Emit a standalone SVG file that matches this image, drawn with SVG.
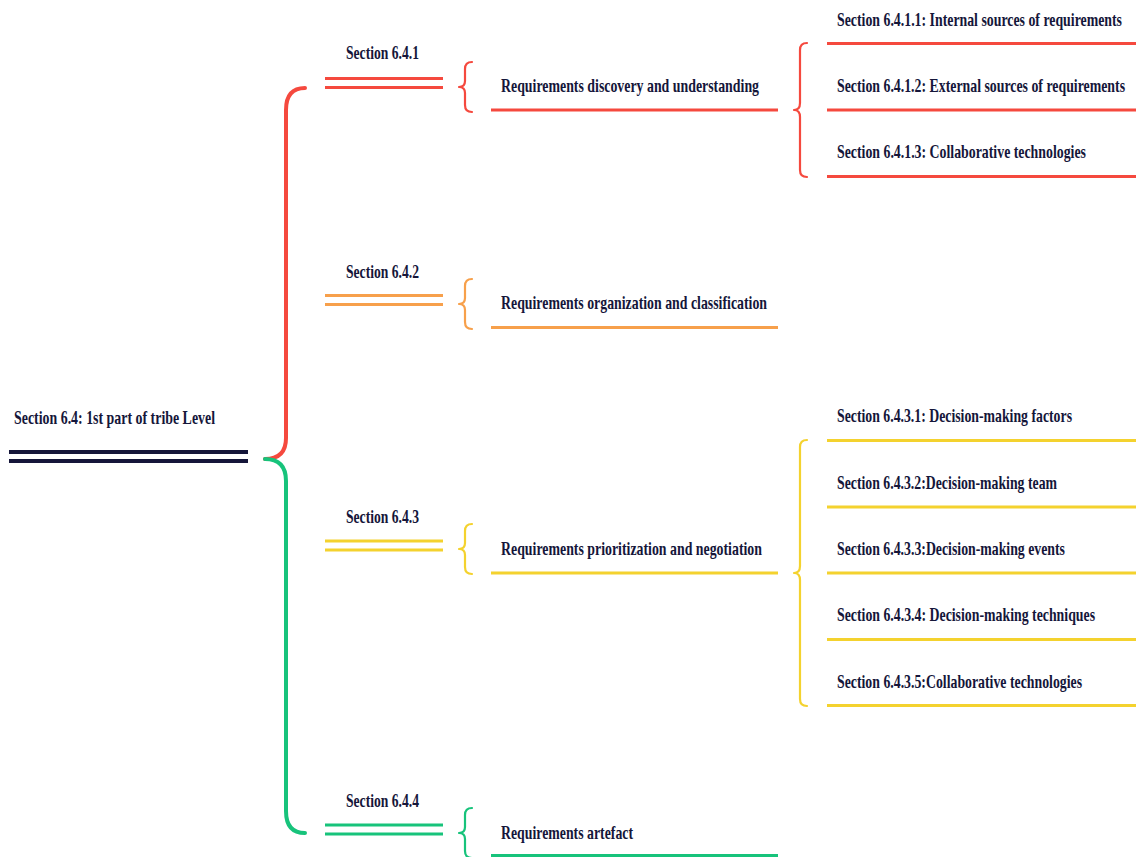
<svg xmlns="http://www.w3.org/2000/svg" width="1136" height="857" viewBox="0 0 1136 857">
<style>
text{font-family:"Liberation Serif","Times New Roman",serif;font-weight:bold;font-size:18px;fill:#15163a}
.ln{fill:none;stroke-linecap:butt}
.red{stroke:#f5493e}
.org{stroke:#f7a04b}
.yel{stroke:#f4d22e}
.grn{stroke:#17c37b}
.br{fill:none;stroke-width:2.2;stroke-linecap:round;stroke-linejoin:round}
.dl{stroke-width:3}
.ul{stroke-width:3}
</style>
<rect width="1136" height="857" fill="#ffffff"/>
<g id="connectors">
<path class="br red" d="M305,88 Q286,88 286,110 L286,438 Q286,459 265,459" style="stroke-width:4"/>
<path class="br grn" d="M265,459 Q286,459 286,481 L286,811 Q286,833 305,833" style="stroke-width:4"/>
<path class="br red" d="M472,62 Q465,62 465,69 L465,81 Q465,87 459,87 Q465,87 465,93 L465,105 Q465,112 472,112"/>
<path class="br org" d="M472,279 Q465,279 465,286 L465,298 Q465,304 459,304 Q465,304 465,310 L465,322 Q465,329 472,329"/>
<path class="br yel" d="M472,524 Q465,524 465,531 L465,543 Q465,549 459,549 Q465,549 465,555 L465,567 Q465,574 472,574"/>
<path class="br grn" d="M472,808 Q465,808 465,815 L465,827 Q465,833 459,833 Q465,833 465,839 L465,851 Q465,858 472,858"/>
<path class="br red" d="M807,43 Q800,43 800,50 L800,103 Q800,110 794,110 Q800,110 800,117 L800,170 Q800,177 807,177"/>
<path class="br yel" d="M807,440 Q800,440 800,447 L800,566 Q800,573 794,573 Q800,573 800,580 L800,699 Q800,706 807,706"/>
</g>
<g id="root">
<text transform="translate(14,424) scale(0.76,1)" textLength="264.5" lengthAdjust="spacingAndGlyphs">Section 6.4: 1st part of tribe Level</text>
<line class="ln" x1="9" y1="452" x2="248" y2="452" stroke="#15163a" stroke-width="4"/>
<line class="ln" x1="9" y1="461" x2="248" y2="461" stroke="#15163a" stroke-width="4"/>
</g>
<g id="s641">
<text transform="translate(346,59) scale(0.76,1)" textLength="96" lengthAdjust="spacingAndGlyphs">Section 6.4.1</text>
<line class="ln red dl" x1="325" y1="78.5" x2="443" y2="78.5"/>
<line class="ln red dl" x1="325" y1="87.5" x2="443" y2="87.5"/>
</g>
<g id="req641">
<text transform="translate(501,92) scale(0.76,1)" textLength="339.5" lengthAdjust="spacingAndGlyphs">Requirements discovery and understanding</text>
<line class="ln red ul" x1="491" y1="110" x2="778" y2="110"/>
</g>
<g id="s6411">
<text transform="translate(837,26) scale(0.76,1)" textLength="375" lengthAdjust="spacingAndGlyphs">Section 6.4.1.1: Internal sources of requirements</text>
<line class="ln red ul" x1="827" y1="43.5" x2="1136" y2="43.5"/>
</g>
<g id="s6412">
<text transform="translate(837,92) scale(0.76,1)" textLength="379" lengthAdjust="spacingAndGlyphs">Section 6.4.1.2: External sources of requirements</text>
<line class="ln red ul" x1="827" y1="110" x2="1136" y2="110"/>
</g>
<g id="s6413">
<text transform="translate(837,158) scale(0.76,1)" textLength="327.6" lengthAdjust="spacingAndGlyphs">Section 6.4.1.3: Collaborative technologies</text>
<line class="ln red ul" x1="827" y1="176.5" x2="1136" y2="176.5"/>
</g>
<g id="s642">
<text transform="translate(346,278) scale(0.76,1)" textLength="96" lengthAdjust="spacingAndGlyphs">Section 6.4.2</text>
<line class="ln org dl" x1="325" y1="295.5" x2="443" y2="295.5"/>
<line class="ln org dl" x1="325" y1="304.5" x2="443" y2="304.5"/>
</g>
<g id="req642">
<text transform="translate(501,309) scale(0.76,1)" textLength="350" lengthAdjust="spacingAndGlyphs">Requirements organization and classification</text>
<line class="ln org ul" x1="491" y1="327.5" x2="778" y2="327.5"/>
</g>
<g id="s643">
<text transform="translate(346,523) scale(0.76,1)" textLength="96" lengthAdjust="spacingAndGlyphs">Section 6.4.3</text>
<line class="ln yel dl" x1="325" y1="541" x2="443" y2="541"/>
<line class="ln yel dl" x1="325" y1="550" x2="443" y2="550"/>
</g>
<g id="req643">
<text transform="translate(501,555) scale(0.76,1)" textLength="343.4" lengthAdjust="spacingAndGlyphs">Requirements prioritization and negotiation</text>
<line class="ln yel ul" x1="491" y1="573" x2="778" y2="573"/>
</g>
<g id="s6431">
<text transform="translate(837,422) scale(0.76,1)" textLength="309.2" lengthAdjust="spacingAndGlyphs">Section 6.4.3.1: Decision-making factors</text>
<line class="ln yel ul" x1="827" y1="440.5" x2="1136" y2="440.5"/>
</g>
<g id="s6432">
<text transform="translate(837,489) scale(0.76,1)" textLength="289.5" lengthAdjust="spacingAndGlyphs">Section 6.4.3.2:Decision-making team</text>
<line class="ln yel ul" x1="827" y1="507" x2="1136" y2="507"/>
</g>
<g id="s6433">
<text transform="translate(837,555) scale(0.76,1)" textLength="300" lengthAdjust="spacingAndGlyphs">Section 6.4.3.3:Decision-making events</text>
<line class="ln yel ul" x1="827" y1="573" x2="1136" y2="573"/>
</g>
<g id="s6434">
<text transform="translate(837,621) scale(0.76,1)" textLength="339.5" lengthAdjust="spacingAndGlyphs">Section 6.4.3.4: Decision-making techniques</text>
<line class="ln yel ul" x1="827" y1="639.5" x2="1136" y2="639.5"/>
</g>
<g id="s6435">
<text transform="translate(837,688) scale(0.76,1)" textLength="322.4" lengthAdjust="spacingAndGlyphs">Section 6.4.3.5:Collaborative technologies</text>
<line class="ln yel ul" x1="827" y1="705.5" x2="1136" y2="705.5"/>
</g>
<g id="s644">
<text transform="translate(346,807) scale(0.76,1)" textLength="96" lengthAdjust="spacingAndGlyphs">Section 6.4.4</text>
<line class="ln grn dl" x1="325" y1="825" x2="443" y2="825"/>
<line class="ln grn dl" x1="325" y1="834" x2="443" y2="834"/>
</g>
<g id="req644">
<text transform="translate(501,839) scale(0.76,1)" textLength="173.7" lengthAdjust="spacingAndGlyphs">Requirements artefact</text>
<line class="ln grn ul" x1="491" y1="855.5" x2="778" y2="855.5"/>
</g>
</svg>
